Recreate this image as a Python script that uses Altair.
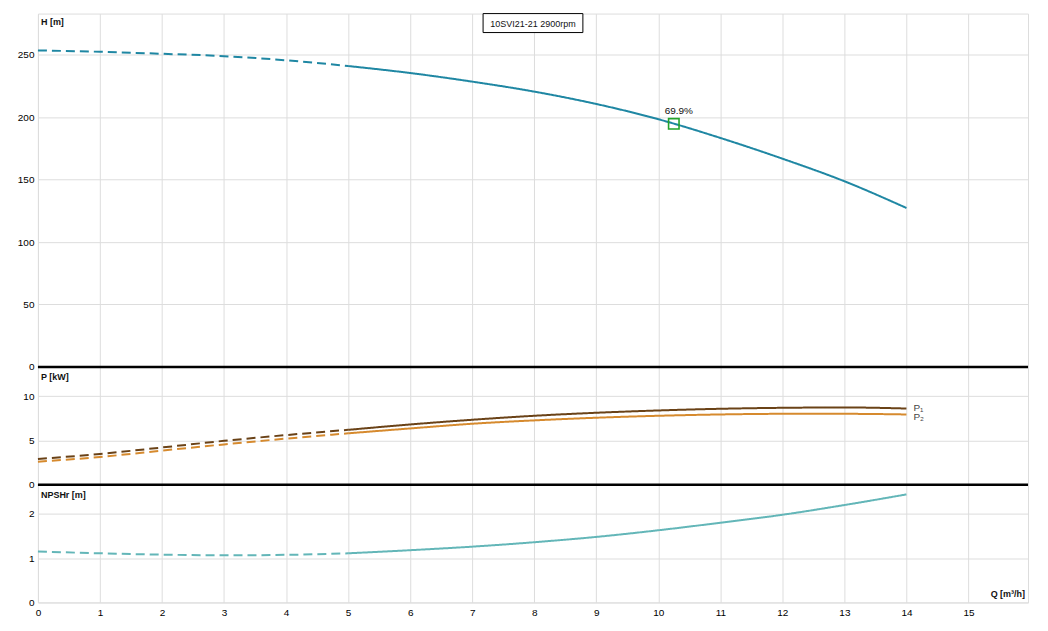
import altair as alt
import pandas as pd

# ---- data ----
Q_DASH = [0, 1, 2, 3, 4, 5]
Q_SOLID = [5, 6, 7, 8, 9, 10, 11, 12, 13, 14]

H_DASH = [253.5, 252.4, 250.8, 248.9, 245.6, 241.0]
H_SOLID = [241.0, 235.4, 228.5, 220.5, 210.6, 198.4, 183.4, 166.8, 148.7, 127.3]

P1_DASH = [2.9, 3.47, 4.2, 4.95, 5.6, 6.19]
P1_SOLID = [6.19, 6.8, 7.33, 7.78, 8.12, 8.38, 8.57, 8.68, 8.72, 8.6]
P2_DASH = [2.6, 3.13, 3.85, 4.55, 5.2, 5.8]
P2_SOLID = [5.8, 6.35, 6.88, 7.26, 7.56, 7.78, 7.93, 8.0, 8.0, 7.93]

N_DASH = [1.15, 1.11, 1.08, 1.065, 1.075, 1.11]
N_SOLID = [1.11, 1.18, 1.26, 1.36, 1.48, 1.63, 1.80, 1.98, 2.2, 2.44]

BEP_Q = [10.25]
BEP_H = [194.7]
BEP_LABEL = ["69.9%"]

X_TICKS = list(range(16))
H_TICKS = [0, 50, 100, 150, 200, 250]
P_TICKS = [0, 5, 10]
N_TICKS = [0, 1, 2]

TITLE = "10SVI21-21 2900rpm"

# ---- styling ----
W = 992
FONT = "Liberation Sans"
C_H = "#1f87a3"
C_P1 = "#6a4217"
C_P2 = "#d68a2e"
C_N = "#63b6b8"
DASH = [9, 5]

xscale = alt.Scale(domain=[0, 15.96], nice=False, zero=False)


def xaxis(bottom):
    if bottom:
        return alt.Axis(values=X_TICKS, title=None, labelFlush=False, ticks=False,
                        labelPadding=5, domain=False, grid=True)
    return alt.Axis(values=X_TICKS, title=None, labels=False, ticks=False,
                    domain=False, grid=True)


def yaxis(ticks):
    return alt.Axis(values=ticks, title=None, labelFlush=False, ticks=False, labelPadding=4,
                    domain=False, grid=True, minExtent=29, maxExtent=29)


def line(qs, vs, color, dashed, ydom, ticks, bottom):
    df = pd.DataFrame({"q": qs, "v": vs})
    m = alt.Chart(df).mark_line(color=color, strokeWidth=2, interpolate="monotone",
                                strokeDash=DASH if dashed else [1, 0])
    return m.encode(
        x=alt.X("q:Q", scale=xscale, axis=xaxis(bottom)),
        y=alt.Y("v:Q", scale=alt.Scale(domain=ydom, nice=False, zero=False), axis=yaxis(ticks)),
    )


def label(text, x, y, bold=True, align="left", baseline="top", size=9):
    return alt.Chart(pd.DataFrame({"t": [text]})).mark_text(
        font=FONT, fontSize=size, fontWeight="bold" if bold else "normal",
        align=align, baseline=baseline, color="#111"
    ).encode(x=alt.value(x), y=alt.value(y), text="t:N")


def top_rule(width):
    # thick separator drawn on the top edge of a lower panel
    return alt.Chart(pd.DataFrame({"t": [0]})).mark_rule(color="black", strokeWidth=width).encode(
        x=alt.value(0), x2=alt.value(W), y=alt.value(0)
    )


# ---- top panel: head ----
HD = [0, 283]
bep_df = pd.DataFrame({"q": BEP_Q, "v": BEP_H, "t": BEP_LABEL})
bep = alt.Chart(bep_df).mark_point(shape="square", filled=False, size=110,
                                   strokeWidth=1.6, color="#22a32a", opacity=1).encode(
    x=alt.X("q:Q", scale=xscale, axis=xaxis(False)),
    y=alt.Y("v:Q", scale=alt.Scale(domain=HD, nice=False, zero=False), axis=yaxis(H_TICKS)),
)
bep_txt = alt.Chart(bep_df).mark_text(font=FONT, fontSize=10, dx=5, dy=-13,
                                      color="#111").encode(
    x=alt.X("q:Q", scale=xscale, axis=xaxis(False)),
    y=alt.Y("v:Q", scale=alt.Scale(domain=HD, nice=False, zero=False), axis=yaxis(H_TICKS)),
    text="t:N",
)
box = alt.Chart(pd.DataFrame({"t": [TITLE]})).mark_rect(
    fill="white", stroke="black", strokeWidth=1
).encode(x=alt.value(446), x2=alt.value(546), y=alt.value(0), y2=alt.value(19))
box_txt = label(TITLE, 496, 10, bold=False, align="center", baseline="middle", size=9)

top = alt.layer(
    line(Q_DASH, H_DASH, C_H, True, HD, H_TICKS, False),
    line(Q_SOLID, H_SOLID, C_H, False, HD, H_TICKS, False),
    bep, bep_txt, box, box_txt,
    label("H [m]", 3, 4),
).properties(width=W, height=354)

# ---- middle panel: power ----
PD = [0, 13.3]
ptxt_df = pd.DataFrame({"q": [14, 14], "v": [P1_SOLID[-1] + 0.1, P2_SOLID[-1] - 0.25],
                        "t": ["P\u2081", "P\u2082"]})
ptxt = alt.Chart(ptxt_df).mark_text(font=FONT, fontSize=10, align="left", dx=7,
                                    color="#444").encode(
    x=alt.X("q:Q", scale=xscale, axis=xaxis(False)),
    y=alt.Y("v:Q", scale=alt.Scale(domain=PD, nice=False, zero=False), axis=yaxis(P_TICKS)),
    text="t:N",
)
mid = alt.layer(
    line(Q_DASH, P1_DASH, C_P1, True, PD, P_TICKS, False),
    line(Q_SOLID, P1_SOLID, C_P1, False, PD, P_TICKS, False),
    line(Q_DASH, P2_DASH, C_P2, True, PD, P_TICKS, False),
    line(Q_SOLID, P2_SOLID, C_P2, False, PD, P_TICKS, False),
    ptxt,
    label("P [kW]", 3, 6),
    top_rule(2.5),
).properties(width=W, height=118)

# ---- bottom panel: NPSHr ----
ND = [0, 2.66]
bot = alt.layer(
    line(Q_DASH, N_DASH, C_N, True, ND, N_TICKS, True),
    line(Q_SOLID, N_SOLID, C_N, False, ND, N_TICKS, True),
    label("NPSHr [m]", 3, 6),
    label("Q [m\u00b3/h]", 989, 115, align="right", baseline="bottom"),
    top_rule(2.5),
).properties(width=W, height=118)

chart = alt.vconcat(top, mid, bot, spacing=0, bounds="flush").properties(
    padding={"left": 0, "top": 4, "right": 10, "bottom": 5}
).configure_view(stroke="black", strokeWidth=1).configure_axis(
    labelFont=FONT, labelFontSize=9, labelColor="#333", gridColor="#d4d4d4", gridWidth=1
).configure(background="white")

chart.save("out.html", embed_options={"renderer": "svg", "actions": False})
